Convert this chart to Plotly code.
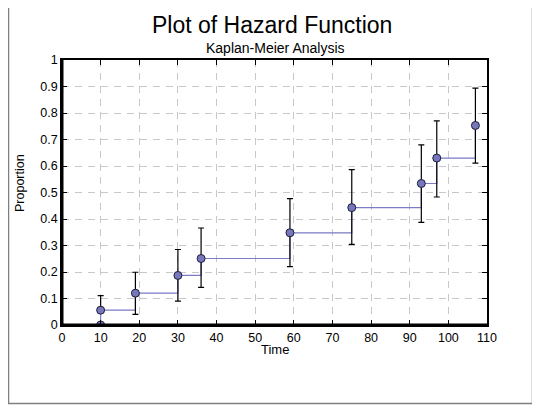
import plotly.graph_objects as go

# Kaplan-Meier hazard estimates
time = [10, 10, 19, 30, 36, 59, 75, 93, 97, 107]
hazard = [0.0, 0.056, 0.12, 0.187, 0.251, 0.348, 0.443, 0.534, 0.630, 0.753]
upper = [0.0, 0.111, 0.199, 0.285, 0.366, 0.477, 0.586, 0.680, 0.770, 0.894]
lower = [0.0, 0.056, 0.040, 0.090, 0.142, 0.220, 0.304, 0.387, 0.483, 0.611]

x_ticks = list(range(0, 111, 10))
y_ticks = [0, 0.1, 0.2, 0.3, 0.4, 0.5, 0.6, 0.7, 0.8, 0.9, 1]
y_ticklabels = ["0", "0.1", "0.2", "0.3", "0.4", "0.5", "0.6", "0.7", "0.8", "0.9", "1"]

# the page body has an 8px margin, so the figure sits at (8, 8) in the window
OFF = 8
W, H = 540 - OFF, 408 - OFF
L, R, T, B = 62 - OFF, 53, 60 - OFF, 83
FONT = "Arial, Liberation Sans, sans-serif"


def px(p):
    return (p - OFF - L) / (W - L - R)


def py(p):
    return 1 - (p - OFF - T) / (H - T - B)


err_plus = [u - h for u, h in zip(upper, hazard)]
err_minus = [h - l for h, l in zip(hazard, lower)]

fig = go.Figure()

fig.add_trace(go.Scatter(
    x=time, y=hazard, mode="lines", line_shape="hv",
    line=dict(color="#7b7bc6", width=1.2), hoverinfo="skip",
))

fig.add_trace(go.Scatter(
    x=time, y=hazard, mode="markers",
    marker=dict(size=8, color="#7777bb", line=dict(color="#1e1e3c", width=1)),
    error_y=dict(type="data", symmetric=False, array=err_plus, arrayminus=err_minus,
                 color="black", thickness=1.2, width=3),
))

axis_common = dict(
    showline=True, linecolor="black", linewidth=1.5, mirror="ticks",
    ticks="inside", ticklen=5, tickcolor="black", tickwidth=1,
    showgrid=True, gridcolor="#c8c8c8", griddash="7px,6px", gridwidth=1,
    zeroline=False, tickfont=dict(family=FONT, size=12.5, color="black"),
)

fig.update_xaxes(range=[0, 110], tickvals=x_ticks, **axis_common)
fig.update_yaxes(range=[0, 1], tickvals=y_ticks, ticktext=y_ticklabels, **axis_common)

# thick left and bottom axis lines
fig.add_shape(type="line", xref="paper", yref="paper", x0=0, x1=0, y0=0, y1=1,
              line=dict(color="black", width=3))
fig.add_shape(type="line", xref="paper", yref="paper", x0=0, x1=1, y0=0, y1=0,
              line=dict(color="black", width=3))

# outer frame
fig.add_shape(type="rect", xref="paper", yref="paper",
              x0=px(8.5), x1=px(532.5), y0=py(403.5), y1=py(5.5),
              line=dict(color="#7f7f7f", width=1.5))

labels = [
    ("Plot of Hazard Function", 272, 25, 23, 0),
    ("Kaplan-Meier Analysis", 275, 48, 14, 0),
    ("Time", 275, 349, 13, 0),
    ("Proportion", 20, 183, 12.5, -90),
]
for text, lx, ly, size, angle in labels:
    fig.add_annotation(text=text, xref="paper", yref="paper",
                       x=px(lx), y=py(ly), xanchor="center", yanchor="middle",
                       showarrow=False, textangle=angle,
                       font=dict(family=FONT, size=size, color="black"))

fig.update_layout(
    width=W, height=H, showlegend=False,
    margin=dict(l=L, r=R, t=T, b=B),
    paper_bgcolor="white", plot_bgcolor="white",
)

fig.write_html("out.html")
